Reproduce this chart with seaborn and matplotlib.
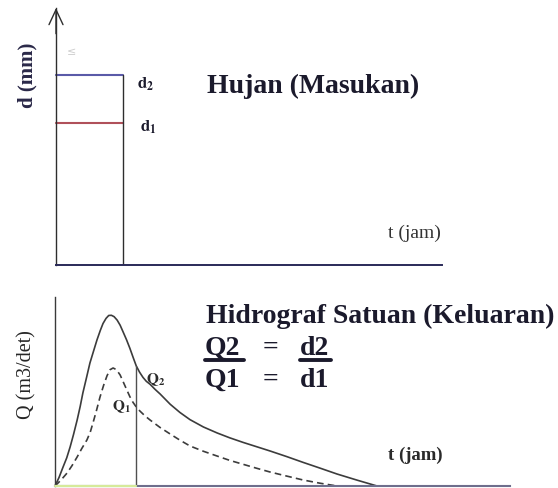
import matplotlib
matplotlib.use("Agg")
import matplotlib.pyplot as plt
from matplotlib.lines import Line2D
import pandas as pd
import seaborn as sns

# Rainfall input: two uniform depths over the same duration
rain_duration = 2.0          # jam
d1 = 7.5                     # mm
d2 = 10.0                    # mm

# Unit hydrograph ordinates (t in jam, Q in m3/det)
t_q2 = [0.0, 0.12, 0.24, 0.35, 0.45, 0.55, 0.66, 0.75, 0.83, 0.94, 1.04, 1.15,
        1.25, 1.35, 1.43, 1.52, 1.60, 1.68, 1.76, 1.85, 1.94, 2.03, 2.13, 2.23,
        2.33, 2.42, 2.52, 2.62, 2.72, 2.83, 2.98, 3.13, 3.28, 3.43, 3.72, 4.02,
        4.42, 4.83, 5.20, 5.60, 6.00, 6.40, 6.90, 7.39, 7.90, 8.40, 9.00, 9.59]
q2 = [0.0, 0.50, 1.11, 1.65, 2.28, 3.00, 3.86, 4.65, 5.44, 6.35, 7.19, 7.90,
      8.54, 9.10, 9.50, 9.80, 9.97, 9.98, 9.90, 9.70, 9.40, 9.00, 8.55, 8.05,
      7.50, 7.02, 6.65, 6.35, 6.12, 5.95, 5.65, 5.38, 5.08, 4.78, 4.30, 3.88,
      3.45, 3.10, 2.82, 2.55, 2.30, 2.05, 1.72, 1.38, 1.04, 0.70, 0.34, 0.0]
t_q1 = [0.0, 0.18, 0.36, 0.51, 0.66, 0.80, 0.95, 1.05, 1.13, 1.24, 1.34, 1.45,
        1.55, 1.64, 1.73, 1.83, 1.94, 2.04, 2.14, 2.23, 2.32, 2.42, 2.53, 2.68,
        2.83, 3.13, 3.43, 3.72, 4.02, 4.42, 4.83, 5.20, 5.60, 6.00, 6.40, 6.90,
        7.39, 7.90, 8.40]
q1 = [0.0, 0.35, 0.76, 1.20, 1.70, 2.20, 2.69, 3.15, 3.68, 4.45, 5.20, 5.90,
      6.45, 6.80, 6.90, 6.80, 6.49, 6.05, 5.61, 5.22, 4.90, 4.62, 4.38, 4.10,
      3.86, 3.42, 3.04, 2.68, 2.34, 2.03, 1.75, 1.50, 1.27, 1.04, 0.82, 0.58,
      0.35, 0.16, 0.0]
t_cut = 2.42                 # time of the Q1 / Q2 ordinate comparison
q_cut = 7.02

title_in = "Hujan (Masukan)"
title_out = "Hidrograf Satuan (Keluaran)"
ylabel_in = "d (mm)"
ylabel_out = "Q (m3/det)"
xlabel = "t (jam)"

sns.set_style("white")
plt.rcParams["font.family"] = ["Liberation Serif", "DejaVu Sans"]
plt.rcParams["mathtext.fontset"] = "stix"

W, H = 558, 488
fig = plt.figure(figsize=(W / 100, H / 100), dpi=100)
fig.patch.set_facecolor("white")


def box(left, top, right, bottom):
    return [left / W, 1 - bottom / H, (right - left) / W, (bottom - top) / H]


def fx(px):
    return px / W


def fy(py):
    return 1 - py / H


ink = "#1b1a2c"

# ---------------- rainfall panel ----------------
ax1 = fig.add_axes(box(56, 8, 442, 265))
ax1.set_xlim(0, 11.5)
ax1.set_ylim(0, 13.55)
ax1.patch.set_alpha(0)
for s in ["top", "right"]:
    ax1.spines[s].set_visible(False)
ax1.spines["left"].set_color("#2e2e2e")
ax1.spines["left"].set_linewidth(1.0)
ax1.spines["bottom"].set_color("#2a2a58")
ax1.spines["bottom"].set_linewidth(1.4)
ax1.set_xticks([])
ax1.set_yticks([])
ax1.annotate("", xy=(0, 1.0), xytext=(0, 0.9), xycoords="axes fraction",
             arrowprops=dict(arrowstyle="->,head_length=0.9,head_width=0.42",
                             color="#2e2e2e", lw=1.0, mutation_scale=12,
                             shrinkA=0, shrinkB=0))

rain = pd.DataFrame({"t": [0.0, rain_duration], "d2": [d2, d2], "d1": [d1, d1]})
sns.lineplot(data=rain, x="t", y="d2", ax=ax1, color="#5a5aa8", linewidth=1.5,
             clip_on=False)
sns.lineplot(data=rain, x="t", y="d1", ax=ax1, color="#b0505a", linewidth=1.5,
             clip_on=False)
ax1.plot([rain_duration, rain_duration], [0, d2], color="#2e2e2e", lw=1.0)
ax1.set_xlabel("")
ax1.set_ylabel("")

# ---------------- hydrograph panel ----------------
ax2 = fig.add_axes(box(55, 297, 510, 486))
ax2.set_xlim(0, 13.55)
ax2.set_ylim(0, 11.05)
ax2.patch.set_alpha(0)
for s in ["top", "right"]:
    ax2.spines[s].set_visible(False)
ax2.spines["left"].set_color("#3a3a3a")
ax2.spines["left"].set_linewidth(1.0)
ax2.spines["bottom"].set_color("#6e6e8c")
ax2.spines["bottom"].set_linewidth(1.5)
ax2.set_xticks([])
ax2.set_yticks([])

ax2.plot([0, t_cut], [0, 0], color="#d6ea9a", lw=1.6, clip_on=False, zorder=3)
sns.lineplot(x=t_q2, y=q2, ax=ax2, color="#3c3c3c", linewidth=1.2,
             sort=False, estimator=None, clip_on=False,
             solid_joinstyle="round", solid_capstyle="round")
sns.lineplot(x=t_q1, y=q1, ax=ax2, color="#3c3c3c", linewidth=1.2,
             linestyle=(0, (4, 2.5)), sort=False, estimator=None, clip_on=False,
             dash_joinstyle="round")
ax2.plot([t_cut, t_cut], [0, q_cut], color="#505050", lw=1.0)
ax2.set_xlabel("")
ax2.set_ylabel("")

# ---------------- text ----------------
fig.text(fx(27), fy(75), ylabel_in, rotation=90, ha="center", va="center",
         fontsize=15, fontweight="bold", color="#2a2848")
fig.text(fx(27), fy(375), ylabel_out, rotation=90, ha="center", va="center",
         fontsize=14.5, color="#262626")
fig.text(fx(72), fy(52), "\u2264", ha="center", va="center", fontsize=8,
         color="#cfcfcf", family=["DejaVu Sans"])

fig.text(fx(137), fy(89), r"$\mathbf{d}_{\mathbf{2}}$", ha="left",
         va="baseline", fontsize=12, color=ink)
fig.text(fx(140), fy(132), r"$\mathbf{d}_{\mathbf{1}}$", ha="left",
         va="baseline", fontsize=12, color=ink)
fig.text(fx(146), fy(383), r"$\mathbf{Q}_{\mathbf{2}}$", ha="left",
         va="baseline", fontsize=11, color="#2a2a2a")
fig.text(fx(112), fy(410), r"$\mathbf{Q}_{\mathbf{1}}$", ha="left",
         va="baseline", fontsize=11, color="#2a2a2a")

fig.text(fx(207), fy(93), title_in, ha="left", va="baseline", fontsize=20,
         fontweight="bold", color=ink)
fig.text(fx(206), fy(323), title_out, ha="left", va="baseline", fontsize=20,
         fontweight="bold", color=ink)

fig.text(fx(205), fy(355), "Q2", ha="left", va="baseline", fontsize=20,
         fontweight="bold", color=ink)
fig.text(fx(271), fy(355), "=", ha="center", va="baseline", fontsize=20,
         fontweight="bold", color=ink)
fig.text(fx(300), fy(355), "d2", ha="left", va="baseline", fontsize=20,
         fontweight="bold", color=ink)
fig.text(fx(205), fy(387), "Q1", ha="left", va="baseline", fontsize=20,
         fontweight="bold", color=ink)
fig.text(fx(271), fy(387), "=", ha="center", va="baseline", fontsize=20,
         fontweight="bold", color=ink)
fig.text(fx(300), fy(387), "d1", ha="left", va="baseline", fontsize=20,
         fontweight="bold", color=ink)
for x0, x1 in [(205, 244), (300, 331)]:
    fig.add_artist(Line2D([fx(x0), fx(x1)], [fy(360), fy(360)],
                          transform=fig.transFigure, color=ink, lw=2.8))

fig.text(fx(388), fy(238), xlabel, ha="left", va="baseline", fontsize=14,
         color="#333333")
fig.text(fx(388), fy(460), xlabel, ha="left", va="baseline", fontsize=13.5,
         fontweight="bold", color="#2a2a2a")

fig.savefig("out.png", dpi=100, facecolor="white")
